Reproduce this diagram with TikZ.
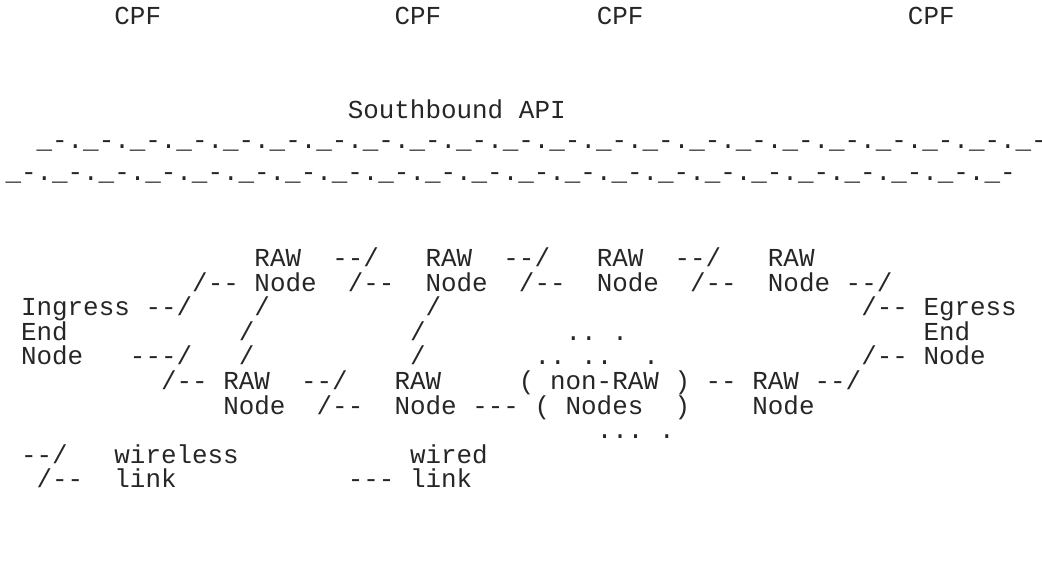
\documentclass[tikz,border=0pt]{standalone}
\usepackage{fontspec}
\setmonofont{Liberation Mono}
\begin{document}
\begin{tikzpicture}[x=1pt,y=1pt]
\def\cw{15.56}
\def\xo{5.5}
\tikzset{tok/.style={anchor=base west, inner sep=0pt, outer sep=0pt,
  font=\ttfamily\fontsize{25.9}{25.9}\selectfont, text=black!85}}
\newcommand\tk[4]{\node[tok] (#1) at ({\xo+#2*\cw},{-#3}) {#4};}
\useasboundingbox (0,0) rectangle (1042,-561);
\clip (0,0) rectangle (1042,-561);
% CPF row
\tk{cpfa}{7}{25}{CPF}
\tk{cpfb}{25}{25}{CPF}
\tk{cpfc}{38}{25}{CPF}
\tk{cpfd}{58}{25}{CPF}
% Southbound API
\tk{sb}{22}{119}{Southbound}
\tk{api}{33}{119}{API}
% wavy lines
\tk{lna}{2}{149}{\_-.\_-.\_-.\_-.\_-.\_-.\_-.\_-.\_-.\_-.\_-.\_-.\_-.\_-.\_-.\_-.\_-.\_-.\_-.\_-.\_-.\_-}
\tk{lnb}{0}{180.5}{\_-.\_-.\_-.\_-.\_-.\_-.\_-.\_-.\_-.\_-.\_-.\_-.\_-.\_-.\_-.\_-.\_-.\_-.\_-.\_-.\_-.\_-}
% row A
\tk{a1}{16}{267}{RAW}
\tk{a2}{21}{267}{--/}
\tk{a3}{27}{267}{RAW}
\tk{a4}{32}{267}{--/}
\tk{a5}{38}{267}{RAW}
\tk{a6}{43}{267}{--/}
\tk{a7}{49}{267}{RAW}
% row B
\tk{b1}{12}{291.5}{/--}
\tk{b2}{16}{291.5}{Node}
\tk{b3}{22}{291.5}{/--}
\tk{b4}{27}{291.5}{Node}
\tk{b5}{33}{291.5}{/--}
\tk{b6}{38}{291.5}{Node}
\tk{b7}{44}{291.5}{/--}
\tk{b8}{49}{291.5}{Node}
\tk{b9}{54}{291.5}{--/}
% row C
\tk{c1}{1}{316}{Ingress}
\tk{c2}{9}{316}{--/}
\tk{c3}{16}{316}{/}
\tk{c4}{27}{316}{/}
\tk{c5}{55}{316}{/--}
\tk{c6}{59}{316}{Egress}
% row D
\tk{d1}{1}{340.5}{End}
\tk{d2}{15}{340.5}{/}
\tk{d3}{26}{340.5}{/}
\tk{d4}{36}{340.5}{..}
\tk{d5}{39}{340.5}{.}
\tk{d6}{59}{340.5}{End}
% row E
\tk{e1}{1}{365}{Node}
\tk{e2}{8}{365}{---/}
\tk{e3}{15}{365}{/}
\tk{e4}{26}{365}{/}
\tk{e5}{34}{365}{..}
\tk{e6}{37}{365}{..}
\tk{e7}{41}{365}{.}
\tk{e8}{55}{365}{/--}
\tk{e9}{59}{365}{Node}
% row F
\tk{f1}{10}{389.5}{/--}
\tk{f2}{14}{389.5}{RAW}
\tk{f3}{19}{389.5}{--/}
\tk{f4}{25}{389.5}{RAW}
\tk{f5}{33}{389.5}{(}
\tk{f6}{35}{389.5}{non-RAW}
\tk{f7}{43}{389.5}{)}
\tk{f8}{45}{389.5}{--}
\tk{f9}{48}{389.5}{RAW}
\tk{f10}{52}{389.5}{--/}
% row G
\tk{g1}{14}{414}{Node}
\tk{g2}{20}{414}{/--}
\tk{g3}{25}{414}{Node}
\tk{g4}{30}{414}{---}
\tk{g5}{34}{414}{(}
\tk{g6}{36}{414}{Nodes}
\tk{g7}{43}{414}{)}
\tk{g8}{48}{414}{Node}
% row H
\tk{h1}{38}{438.5}{...}
\tk{h2}{42}{438.5}{.}
% row I
\tk{i1}{1}{463}{--/}
\tk{i2}{7}{463}{wireless}
\tk{i3}{26}{463}{wired}
% row J
\tk{j1}{2}{487.5}{/--}
\tk{j2}{7}{487.5}{link}
\tk{j3}{22}{487.5}{---}
\tk{j4}{26}{487.5}{link}
\end{tikzpicture}
\end{document}
